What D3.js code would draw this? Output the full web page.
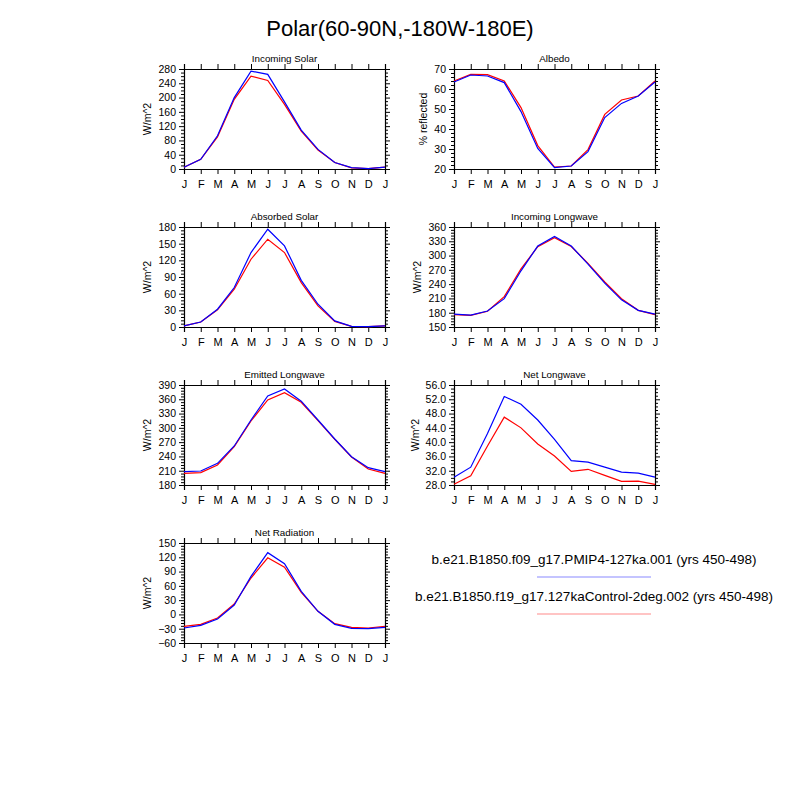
<!DOCTYPE html>
<html>
<head>
<meta charset="utf-8">
<script src="https://cdn.jsdelivr.net/npm/d3@7"></script>
<style>
  body { margin: 0; background: #fff; }
  text { font-family: "Liberation Sans", Arial, Helvetica, sans-serif; fill: #000; }
</style>
</head>
<body>
<div id="chart"></div>
<script>
// month labels (Jan repeated at the end)
const months = ["J","F","M","A","M","J","J","A","S","O","N","D","J"];

// values, blue = PMIP4-127ka, red = 127kaControl
const incomingSolarBlue = [5, 27, 93, 200, 274, 265, 188, 109, 55, 18, 4, 1, 5];
const incomingSolarRed  = [5, 27, 90, 195, 260, 248, 181, 106, 53, 18, 3, 1, 5];
const albedoBlue = [63.5, 67, 66.5, 63.2, 48.7, 30.3, 20.7, 21.5, 28.7, 45.7, 52.8, 56.5, 63.5];
const albedoRed  = [64, 67.3, 67.2, 64, 50.7, 31.7, 21, 21.5, 29.7, 47.3, 54.5, 56.5, 64];
const absorbedBlue = [2, 9, 32, 71, 134, 176, 146, 84, 41, 11, 1, 0.5, 2];
const absorbedRed  = [2, 9, 31, 68, 122, 158, 134, 80, 38, 10, 1, 0.5, 2];
const inLwBlue = [177, 175, 183.6, 209.5, 268, 320, 340, 320, 282, 242, 207, 185, 177];
const inLwRed  = [176, 174.5, 183, 213.7, 272, 318.7, 337.6, 319, 283.7, 244.5, 209.5, 185, 176];
const emLwBlue = [208, 209.4, 225.5, 262, 316.5, 367, 381.6, 356, 316.5, 276.6, 239.5, 216.4, 208];
const emLwRed  = [204.5, 206, 222, 260.5, 314.4, 358.5, 374, 353.6, 315, 276, 238.8, 213.6, 204.5];
const netLwBlue = [30.2, 33, 42.4, 52.8, 50.6, 46.2, 40.8, 34.8, 34.4, 33, 31.6, 31.3, 30.2];
const netLwRed  = [28.2, 30.6, 38.9, 47, 44, 39.5, 36.1, 31.8, 32.4, 30.7, 29, 29.1, 28.2];
const netRadBlue = [-28.5, -23, -9.6, 19.8, 80, 129.7, 106.6, 48.5, 6.5, -20.8, -29.2, -30, -27];
const netRadRed  = [-25, -20.8, -7.5, 22, 76.5, 119, 99, 46.4, 6.5, -19.4, -27, -28.5, -25];

const legendNames = [
  "b.e21.B1850.f09_g17.PMIP4-127ka.001 (yrs 450-498)",
  "b.e21.B1850.f19_g17.127kaControl-2deg.002 (yrs 450-498)"
];

const svg = d3.select("#chart").append("svg")
  .attr("width", 800)
  .attr("height", 800);

svg.append("text")
  .attr("x", 400).attr("y", 36)
  .attr("text-anchor", "middle")
  .style("font-size", "22px")
  .text("Polar(60-90N,-180W-180E)");

const panelW = 201, panelH = 100;
const colX = [184, 454];
const rowY = [69, 227, 385, 543];

const panels = [
  {title: "Incoming Solar", ylab: "W/m^2", col: 0, row: 0, dom: [0, 280], step: 40, minor: 4, fmt: "d", blue: incomingSolarBlue, red: incomingSolarRed},
  {title: "Albedo", ylab: "% reflected", col: 1, row: 0, dom: [20, 70], step: 10, minor: 5, fmt: "d", blue: albedoBlue, red: albedoRed},
  {title: "Absorbed Solar", ylab: "W/m^2", col: 0, row: 1, dom: [0, 180], step: 30, minor: 5, fmt: "d", blue: absorbedBlue, red: absorbedRed},
  {title: "Incoming Longwave", ylab: "W/m^2", col: 1, row: 1, dom: [150, 360], step: 30, minor: 5, fmt: "d", blue: inLwBlue, red: inLwRed},
  {title: "Emitted Longwave", ylab: "W/m^2", col: 0, row: 2, dom: [180, 390], step: 30, minor: 5, fmt: "d", blue: emLwBlue, red: emLwRed},
  {title: "Net Longwave", ylab: "W/m^2", col: 1, row: 2, dom: [28, 56], step: 4, minor: 4, fmt: ".1f", blue: netLwBlue, red: netLwRed},
  {title: "Net Radiation", ylab: "W/m^2", col: 0, row: 3, dom: [-60, 150], step: 30, minor: 5, fmt: "d", blue: netRadBlue, red: netRadRed}
];

panels.forEach(p => {
  const g = svg.append("g")
    .attr("transform", `translate(${colX[p.col]},${rowY[p.row]})`);

  const x = d3.scaleLinear().domain([0, 12]).range([0, panelW]);
  const y = d3.scaleLinear().domain(p.dom).range([panelH, 0]);

  const majors = d3.range(p.dom[0], p.dom[1] + p.step / 2, p.step);
  const minors = d3.range(p.dom[0], p.dom[1] + 1e-9, p.step / p.minor)
    .filter(v => Math.abs(((v - p.dom[0]) / p.step) - Math.round((v - p.dom[0]) / p.step)) > 1e-6);
  const monthIdx = d3.range(13);

  // minor ticks left/right
  g.append("g").call(d3.axisLeft(y).tickValues(minors).tickSize(3).tickFormat(""))
    .call(a => a.select(".domain").remove());
  g.append("g").attr("transform", `translate(${panelW},0)`)
    .call(d3.axisRight(y).tickValues(minors).tickSize(3).tickFormat(""))
    .call(a => a.select(".domain").remove());

  // major ticks
  const yAxis = g.append("g")
    .call(d3.axisLeft(y).tickValues(majors).tickSize(5).tickPadding(3).tickFormat(d3.format(p.fmt)));
  yAxis.selectAll("text").style("font-size", "10.5px");
  g.append("g").attr("transform", `translate(${panelW},0)`)
    .call(d3.axisRight(y).tickValues(majors).tickSize(5).tickFormat(""));

  const xAxis = g.append("g").attr("transform", `translate(0,${panelH})`)
    .call(d3.axisBottom(x).tickValues(monthIdx).tickSize(5).tickPadding(6).tickFormat(i => months[i]));
  xAxis.selectAll("text").style("font-size", "11px");
  g.append("g")
    .call(d3.axisTop(x).tickValues(monthIdx).tickSize(5).tickFormat(""));

  g.selectAll(".domain").attr("stroke", "#000").attr("stroke-width", 1.2);
  g.selectAll(".tick line").attr("stroke", "#000");

  const line = d3.line().x((d, i) => x(i)).y(d => y(d));

  g.append("path").datum(p.red)
    .attr("fill", "none").attr("stroke", "#ff0000").attr("stroke-width", 1.2)
    .attr("d", line);
  g.append("path").datum(p.blue)
    .attr("fill", "none").attr("stroke", "#0000ff").attr("stroke-width", 1.2)
    .attr("d", line);

  g.append("text")
    .attr("x", panelW / 2).attr("y", -7)
    .attr("text-anchor", "middle")
    .style("font-size", "9.8px")
    .text(p.title);

  // y label left of the tick labels
  const labW = d3.max(yAxis.selectAll("text").nodes(), n => n.getComputedTextLength());
  g.append("text")
    .attr("transform", `translate(${-8 - labW - 7},${panelH / 2}) rotate(-90)`)
    .attr("text-anchor", "middle")
    .style("font-size", "10.5px")
    .text(p.ylab);
});

// legend
const legendColors = ["#b0b0ff", "#ffb0b0"];
const legendY = [564, 601];
legendNames.forEach((name, i) => {
  svg.append("text")
    .attr("x", 594).attr("y", legendY[i])
    .attr("text-anchor", "middle")
    .style("font-size", "13.5px")
    .text(name);
  svg.append("line")
    .attr("x1", 537).attr("x2", 651)
    .attr("y1", legendY[i] + 13).attr("y2", legendY[i] + 13)
    .attr("stroke", legendColors[i]).attr("stroke-width", 1.5);
});
</script>
</body>
</html>
